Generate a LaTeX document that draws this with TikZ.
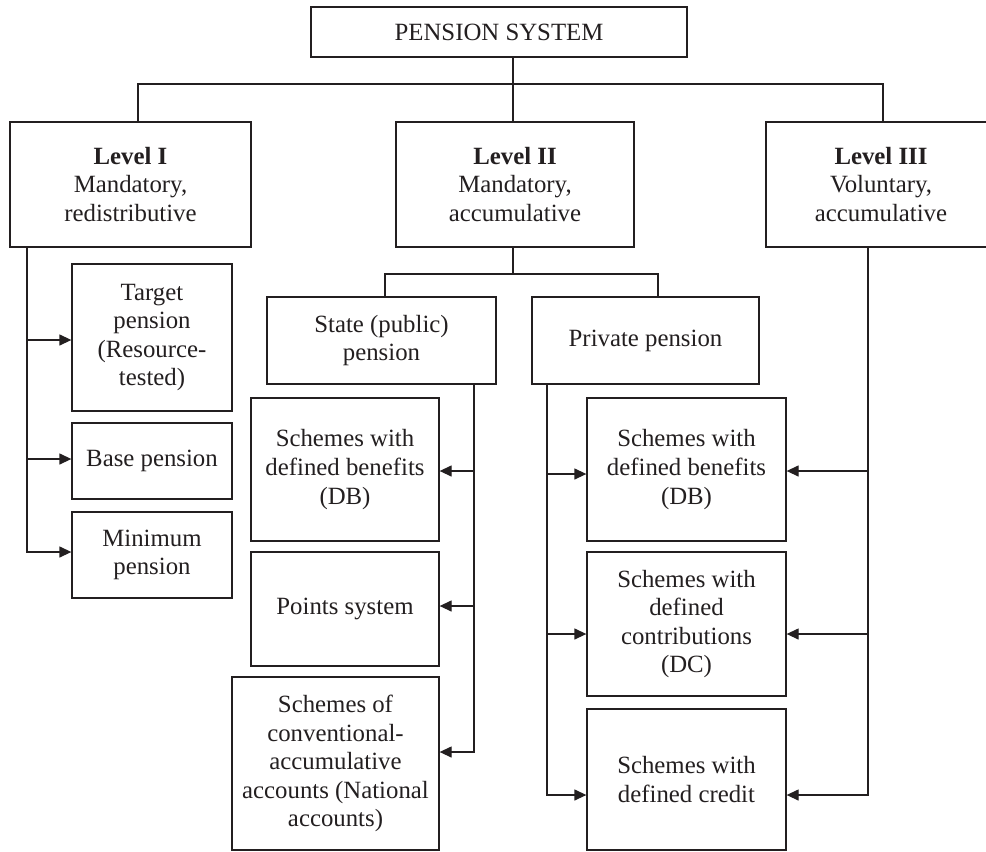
\documentclass[tikz,border=0pt]{standalone}
\usepackage{fontspec}
\setmainfont{Liberation Serif}
\usetikzlibrary{arrows.meta}
\definecolor{ink}{RGB}{35,31,32}
\tikzset{
  box/.style={draw=ink, line width=1.3pt, inner sep=2pt, align=center,
    text=ink, font=\fontsize{24.8}{28.6}\selectfont},
  link/.style={draw=ink, line width=1.3pt},
  arr/.style={link, -{Triangle[length=12pt,width=11pt]}}
}
\begin{document}
\begin{tikzpicture}[x=1pt,y=-1pt]
\useasboundingbox (0,0) rectangle (986,852);
\clip (0,0) rectangle (986,852);
\fill[white] (0,0) rectangle (986,852);

% top of the hierarchy
\node[box, minimum width=376, minimum height=50] (ps) at (499,32) {PENSION SYSTEM};

% the three levels
\node[box, minimum width=241, minimum height=125] (l1) at (130.5,184.5)
  {\textbf{Level I}\\Mandatory,\\redistributive};
\node[box, minimum width=238, minimum height=125] (l2) at (515,184.5)
  {\textbf{Level II}\\Mandatory,\\accumulative};
\node[box, minimum width=230, minimum height=125] (l3) at (881,184.5)
  {\textbf{Level III}\\Voluntary,\\accumulative};

% level I branches
\node[box, minimum width=160, minimum height=147] (tp) at (152,337.5)
  {Target\\pension\\(Resource-\\tested)};
\node[box, minimum width=160, minimum height=76] (bp) at (152,461) {Base pension};
\node[box, minimum width=160, minimum height=86] (mp) at (152,555) {Minimum\\pension};

% level II split
\node[box, minimum width=229, minimum height=87] (st) at (381.5,340.5)
  {State (public)\\pension};
\node[box, minimum width=227, minimum height=87] (pr) at (645.5,340.5)
  {Private pension};

% state schemes
\node[box, minimum width=188, minimum height=143] (sdb) at (345,469.5)
  {Schemes with\\defined benefits\\(DB)};
\node[box, minimum width=188, minimum height=114] (pts) at (345,609) {Points system};
\node[box, minimum width=207, minimum height=173] (conv) at (335.5,763.5)
  {Schemes of\\conventional-\\accumulative\\accounts (National\\accounts)};

% private schemes
\node[box, minimum width=199, minimum height=143] (pdb) at (686.5,469.5)
  {Schemes with\\defined benefits\\(DB)};
\node[box, minimum width=199, minimum height=144] (pdc) at (686.5,624)
  {Schemes with\\defined\\contributions\\(DC)};
\node[box, minimum width=199, minimum height=141] (pcr) at (686.5,779.5)
  {Schemes with\\defined credit};

% junction points and trunk positions
\coordinate (hub) at (513,84);
\coordinate (j1) at (138,84);
\coordinate (j3) at (883,84);
\coordinate (s2) at (513,274);
\coordinate (sL) at (385,274);
\coordinate (sR) at (658,274);
\coordinate (xA) at (27,0);
\coordinate (xS) at (474,0);
\coordinate (xP) at (547,0);
\coordinate (xL) at (868,0);
\coordinate (rTP) at (0,340);
\coordinate (rBP) at (0,459);
\coordinate (rMP) at (0,552);
\coordinate (rSDB) at (0,471);
\coordinate (rPTS) at (0,606);
\coordinate (rCONV) at (0,752);
\coordinate (rPDB) at (0,474);
\coordinate (rPDC) at (0,634);
\coordinate (rPCR) at (0,795);

% connectors between the top and the levels
\draw[link] (ps.south -| hub) -- (l2.north -| hub);
\draw[link] (l1.north -| j1) |- (j3) -- (l3.north -| j3);

% level II split
\draw[link] (l2.south -| s2) -- (s2);
\draw[link] (st.north -| sL) |- (sR) -- (pr.north -| sR);

% level I trunk
\draw[arr] (l1.south -| xA) |- (mp.west |- rMP);
\draw[arr] (xA |- rTP) -- (tp.west |- rTP);
\draw[arr] (xA |- rBP) -- (bp.west |- rBP);

% state trunk
\draw[arr] (st.south -| xS) |- (conv.east |- rCONV);
\draw[arr] (xS |- rSDB) -- (sdb.east |- rSDB);
\draw[arr] (xS |- rPTS) -- (pts.east |- rPTS);

% private trunk
\draw[arr] (pr.south -| xP) |- (pcr.west |- rPCR);
\draw[arr] (xP |- rPDB) -- (pdb.west |- rPDB);
\draw[arr] (xP |- rPDC) -- (pdc.west |- rPDC);

% level III trunk
\draw[arr] (l3.south -| xL) |- (pcr.east |- rPCR);
\draw[arr] (xL |- rSDB) -- (pdb.east |- rSDB);
\draw[arr] (xL |- rPDC) -- (pdc.east |- rPDC);
\end{tikzpicture}
\end{document}
